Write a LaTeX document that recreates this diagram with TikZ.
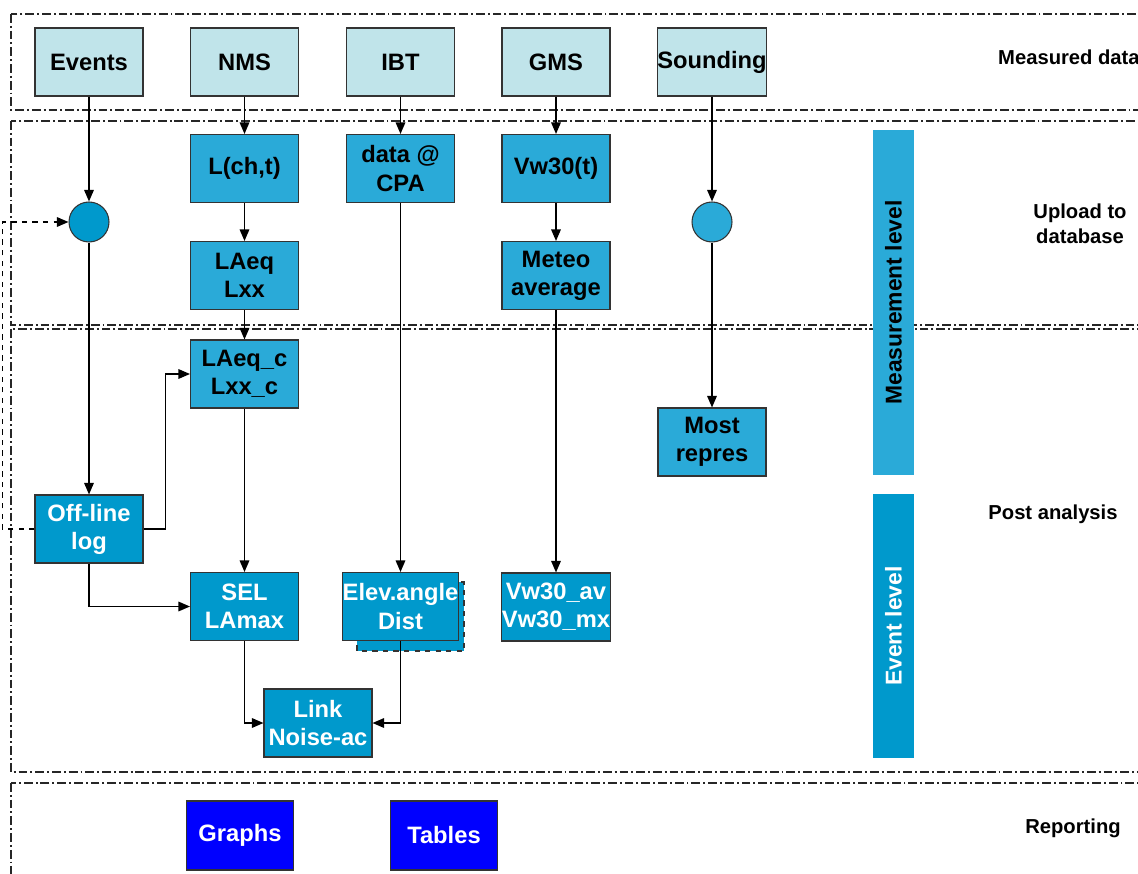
\documentclass[tikz,border=0pt]{standalone}
\usepackage{fontspec}
\setmainfont{Liberation Sans}
\usetikzlibrary{arrows.meta}

\definecolor{srcfill}{RGB}{192,228,234}
\definecolor{procfill}{RGB}{42,170,216}
\definecolor{evtfill}{RGB}{0,153,204}
\definecolor{repfill}{RGB}{0,0,255}

\begin{document}
\begin{tikzpicture}[x=0.02cm, y=-0.02cm,
    box/.style={draw=black!80, line width=0.6pt, inner sep=0pt, minimum width=2.16cm, minimum height=1.36cm,
        align=center, font=\fontsize{13.5}{16}\selectfont\bfseries},
    srcbox/.style={box, fill=srcfill},
    procbox/.style={box, fill=procfill},
    evtbox/.style={box, fill=evtfill, text=white},
    repbox/.style={box, fill=repfill, text=white, minimum width=2.14cm, minimum height=1.38cm},
    dot/.style={circle, draw=black!80, line width=0.6pt, minimum size=0.8cm, inner sep=0pt},
    flow/.style={line width=0.85pt, -{Triangle[length=2.3mm, width=1.9mm]}},
    frame/.style={line width=0.6pt, black!85, dash pattern=on 5pt off 1.7pt on 1.1pt off 1.7pt},
    side/.style={font=\fontsize{11.5}{14}\selectfont\bfseries, align=center},
    levelbar/.style={rotate=90, inner sep=0pt, minimum height=0.82cm, font=\fontsize{13}{15}\selectfont\bfseries}]
    \useasboundingbox (0,0) rectangle (1138,874);
    \clip (0,0) rectangle (1138,874);

    \draw[frame] (11,14) rectangle (1170,110);
    \draw[frame] (11,121) rectangle (1170,325);
    \draw[frame] (11,329) rectangle (1170,772);
    \draw[frame] (11,783) rectangle (1170,920);

    \node[srcbox] (events) at (89,62) {Events};
    \node[srcbox] (nms) at (244.5,62) {NMS};
    \node[srcbox] (ibt) at (400.5,62) {IBT};
    \node[srcbox] (gms) at (556,62) {GMS};
    \node[srcbox] (sounding) at (712,62) {Sounding};

    \node[dot, fill=evtfill] (evdot) at (89,222) {};
    \node[procbox] (lcht) at (244.5,168.5) {L(ch,t)};
    \node[procbox] (cpa) at (400.5,168.5) {data @\\CPA};
    \node[procbox] (vwt) at (556,168.5) {Vw30(t)};
    \node[dot, fill=procfill] (sndot) at (712,222) {};

    \node[procbox] (laeq) at (244.5,275.5) {LAeq\\Lxx};
    \node[procbox] (meteo) at (556,275.5) {Meteo\\average};
    \node[procbox] (laeqc) at (244.5,374) {LAeq\_c\\Lxx\_c};
    \node[procbox] (most) at (712,442) {Most\\repres};

    \node[evtbox] (offlog) at (89,529) {Off-line\\log};
    \node[evtbox] (sel) at (244.5,606.5) {SEL\\LAmax};
    \draw[fill=evtfill, draw=black!80, line width=0.6pt, dashed] (357,582) rectangle (464,651);
    \node[evtbox] (elev) at (400.5,606.5) {Elev.angle\\Dist};
    \node[evtbox] (vwav) at (556,607) {Vw30\_av\\Vw30\_mx};
    \node[evtbox] (link) at (318,723) {Link\\Noise-ac};

    \node[repbox] (graphs) at (240,835.5) {Graphs};
    \node[repbox] (tables) at (444,835.5) {Tables};

    \node[levelbar, fill=procfill, minimum width=6.9cm] (measbar) at (893.5,302.5) {Measurement level};
    \node[levelbar, fill=evtfill, text=white, minimum width=5.28cm] (evbar) at (893.5,626) {Event level};

    \node[side, anchor=west] (measured) at (992,57) {Measured data};
    \node[side] (upload) at (1080,224) {Upload to\\database};
    \node[side] (post) at (1053,514) {Post analysis};
    \node[side] (reporting) at (1073,828) {Reporting};

    \draw[flow] (events) -- (evdot);
    \draw[flow] (evdot) -- (offlog);
    \draw[flow, dashed] (offlog.west) -- ++(-32,0) |- (evdot.west);
    \draw[flow] (offlog.east) -- ++(22,0) |- (laeqc.west);
    \draw[flow] (offlog.south) |- (sel.west);

    \draw[flow] (nms) -- (lcht);
    \draw[flow] (lcht) -- (laeq);
    \draw[flow] (laeq) -- (laeqc);
    \draw[flow] (laeqc) -- (sel);

    \draw[flow] (ibt) -- (cpa);
    \draw[flow] (cpa) -- (elev);

    \draw[flow] (gms) -- (vwt);
    \draw[flow] (vwt) -- (meteo);
    \draw[flow] (meteo) -- (vwav);

    \draw[flow] (sounding) -- (sndot);
    \draw[flow] (sndot) -- (most);

    \draw[flow] (sel.south) |- (link.west);
    \draw[flow] (elev.south) |- (link.east);
\end{tikzpicture}
\end{document}
